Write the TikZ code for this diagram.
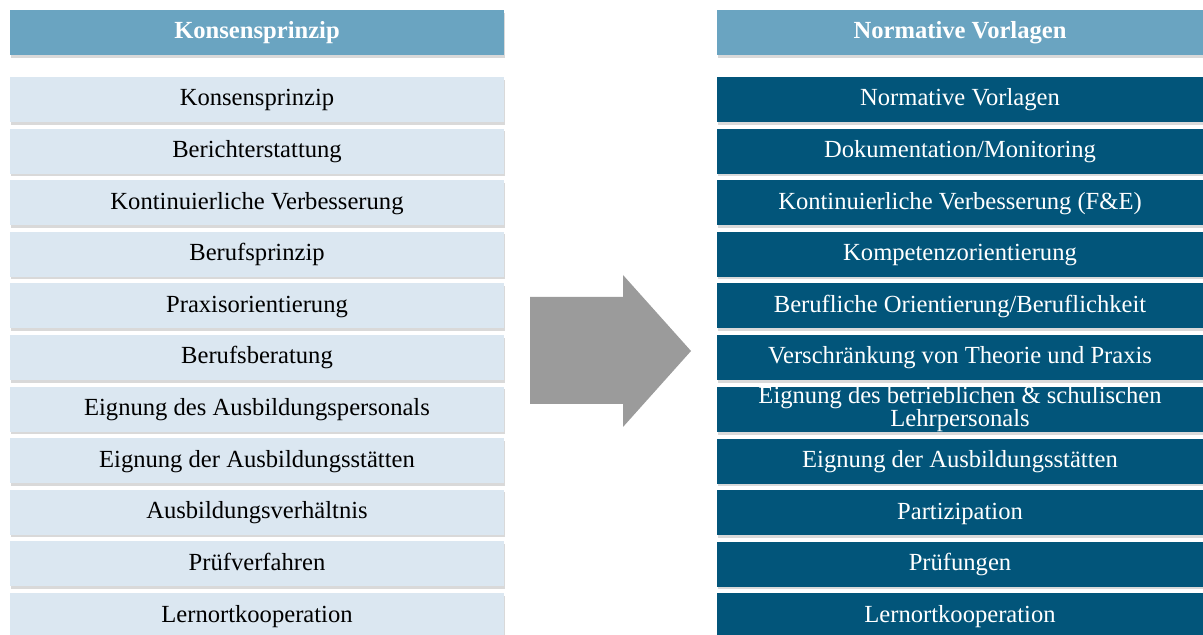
\documentclass[tikz,border=0pt]{standalone}
\usepackage{fontspec}
\setmainfont{Liberation Serif}
\usetikzlibrary{positioning,shadows}
\definecolor{kopf}{HTML}{6AA4C1}
\definecolor{hell}{HTML}{DBE7F1}
\definecolor{dunkel}{HTML}{02557A}
\definecolor{pfeil}{HTML}{9B9B9B}
\tikzset{
	box/.style={minimum height=22.5pt, inner sep=0pt, outer sep=0pt, align=center, text height=9pt, text depth=2.5pt, font=\fontsize{12.3}{11.5}\selectfont, drop shadow={shadow xshift=.4pt, shadow yshift=-1.3pt, opacity=.3}},
	kbox/.style={box, fill=hell, minimum width=247pt},
	nbox/.style={box, fill=dunkel, text=white, minimum width=243pt},
	hbox/.style={box, fill=kopf, text=white, font=\fontsize{12.3}{11.5}\selectfont\bfseries}
}
\begin{document}
\begin{tikzpicture}
		\useasboundingbox (0,0) rectangle (601.5pt,-317.5pt);
		\node[hbox, minimum width=247pt] (hk) at (128.5pt,-16.25pt) {Konsensprinzip};
		\node[kbox, below=11pt of hk] (k1) {Konsensprinzip};
		\node[kbox, below=3.3pt of k1] (k2) {Berichterstattung};
		\node[kbox, below=3.3pt of k2] (k3) {Kontinuierliche Verbesserung};
		\node[kbox, below=3.3pt of k3] (k4) {Berufsprinzip};
		\node[kbox, below=3.3pt of k4] (k5) {Praxisorientierung};
		\node[kbox, below=3.3pt of k5] (k6) {Berufsberatung};
		\node[kbox, below=3.3pt of k6] (k7) {Eignung des Ausbildungspersonals};
		\node[kbox, below=3.3pt of k7] (k8) {Eignung der Ausbildungsstätten};
		\node[kbox, below=3.3pt of k8] (k9) {Ausbildungsverhältnis};
		\node[kbox, below=3.3pt of k9] (k10) {Prüfverfahren};
		\node[kbox, below=3.3pt of k10] (k11) {Lernortkooperation};
	
		\node[hbox, minimum width=243pt] (hn) at (480pt,-16.25pt) {Normative Vorlagen};
		\node[nbox, below=11pt of hn] (n1) {Normative Vorlagen};
		\node[nbox, below=3.3pt of n1] (n2) {Dokumentation/Monitoring};
		\node[nbox, below=3.3pt of n2] (n3) {Kontinuierliche Verbesserung (F\&E)};
		\node[nbox, below=3.3pt of n3] (n4) {Kompetenzorientierung};
		\node[nbox, below=3.3pt of n4] (n5) {Berufliche Orientierung/Beruflichkeit};
		\node[nbox, below=3.3pt of n5] (n6) {Verschränkung von Theorie und Praxis};
		\node[nbox, below=3.3pt of n6, text height=, text depth=] (n7) {Eignung des betrieblichen \& schulischen\\Lehrpersonals};
		\node[nbox, below=3.3pt of n7] (n8) {Eignung der Ausbildungsstätten};
		\node[nbox, below=3.3pt of n8] (n9) {Partizipation};
		\node[nbox, below=3.3pt of n9] (n10) {Prüfungen};
		\node[nbox, below=3.3pt of n10] (n11) {Lernortkooperation};
	
		\fill[pfeil] (265pt,-148.5pt) -- (311.5pt,-148.5pt) -- (311.5pt,-137.5pt) -- (345.5pt,-175.5pt)
			-- (311.5pt,-213.5pt) -- (311.5pt,-202pt) -- (265pt,-202pt) -- cycle;
	\end{tikzpicture}
\end{document}
